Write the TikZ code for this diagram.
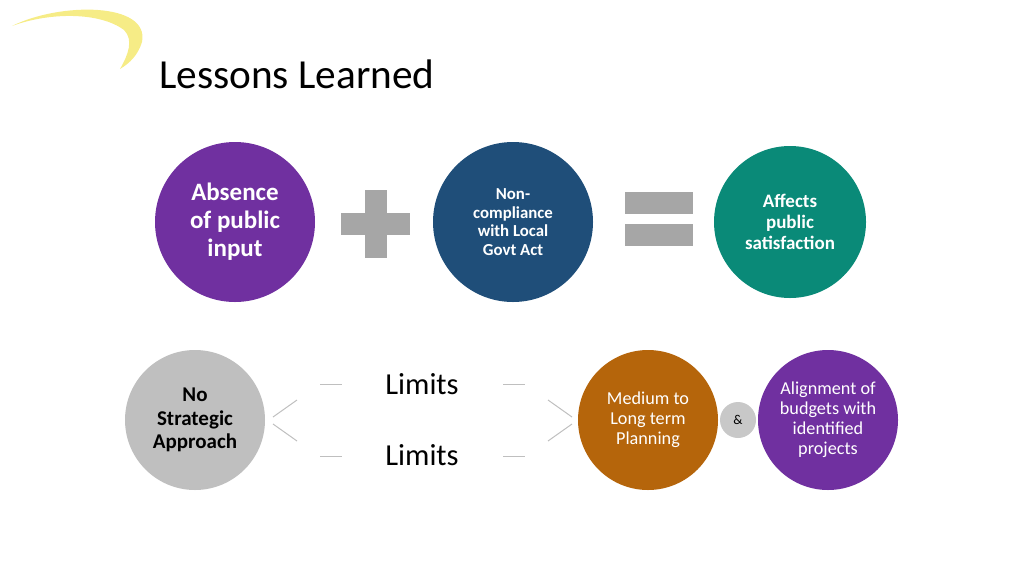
\documentclass[tikz,border=0pt]{standalone}
\usepackage{fontspec}
\setmainfont{Carlito}
\definecolor{cpurple}{HTML}{7030A0}
\definecolor{cblue}{HTML}{1F4E79}
\definecolor{cteal}{HTML}{0A8A78}
\definecolor{corange}{HTML}{B5650B}
\definecolor{cgrayA}{HTML}{A6A6A6}
\definecolor{cgrayB}{HTML}{BFBFBF}
\definecolor{cgrayC}{HTML}{C8C8C8}
\definecolor{cline}{HTML}{BFBFBF}
\definecolor{cyellow}{HTML}{F6EC86}
\begin{document}
\begin{tikzpicture}[x=1pt,y=-1pt,
  bubble/.style={circle, inner sep=0pt, align=center},
  deco/.style={draw=cline, line width=1pt},
  sym/.style={fill=cgrayA, draw=none}]
\path[use as bounding box] (0,0) rectangle (1024,576);
% swoosh
\fill[cyellow] (12,26) .. controls (60,2) and (150,2) .. (142,42)
  .. controls (138,55) and (130,63) .. (120,69)
  .. controls (128,55) and (134,40) .. (124,30)
  .. controls (100,12) and (50,12) .. (12,26) -- cycle;
% title
\node[anchor=base west, inner sep=0pt, font=\fontsize{41.3}{48}\selectfont] (title) at (159,88) {Lessons Learned};
% top row
\node[bubble, fill=cpurple, minimum size=160pt, text=white, font=\fontsize{25}{28}\selectfont\bfseries] (absence) at (235,222) {Absence\\of public\\input};
\path[sym] (365,190) rectangle (387,258);
\path[sym] (341,213) rectangle (410,235);
\node[bubble, fill=cblue, minimum size=160pt, text=white, font=\fontsize{16.8}{18.7}\selectfont\bfseries] (noncomp) at (513,222) {Non-\\compliance\\with Local\\Govt Act};
\path[sym] (625,192) rectangle (693,214);
\path[sym] (625,224) rectangle (693,246);
\node[bubble, fill=cteal, minimum size=152pt, text=white, font=\fontsize{19}{21}\selectfont\bfseries] (affects) at (790,222) {Affects\\public\\satisfaction};
% bottom row
\node[bubble, fill=cgrayB, minimum size=140pt, text=black, font=\fontsize{21}{23.5}\selectfont\bfseries] (nostrat) at (195,420) {No\\Strategic\\Approach};
\node[inner sep=0pt, font=\fontsize{30.5}{34}\selectfont] (lim1) at (422,384) {Limits};
\node[inner sep=0pt, font=\fontsize{30.5}{34}\selectfont] (lim2) at (422,455) {Limits};
\node[bubble, fill=corange, minimum size=140pt, text=white, font=\fontsize{18.2}{20}\selectfont] (medium) at (648,420) {Medium to\\Long term\\Planning};
\node[bubble, fill=cgrayC, minimum size=36pt, text=black, font=\fontsize{13.5}{15}\selectfont] (amp) at (738,420) {\&};
\node[bubble, fill=cpurple, minimum size=140pt, text=white, font=\fontsize{18.2}{20}\selectfont] (align) at (828,420) {Alignment of\\budgets with\\identified\\projects};
% decorative dashes and chevrons
\coordinate (d1a) at (320,384); \coordinate (d1b) at (342,384);
\coordinate (d2a) at (503,384); \coordinate (d2b) at (525,384);
\coordinate (d3a) at (320,456); \coordinate (d3b) at (342,456);
\coordinate (d4a) at (503,456); \coordinate (d4b) at (525,456);
\draw[deco] (d1a) -- (d1b);
\draw[deco] (d2a) -- (d2b);
\draw[deco] (d3a) -- (d3b);
\draw[deco] (d4a) -- (d4b);
\coordinate (cl1) at (297,400); \coordinate (cl2) at (273,417);
\coordinate (cl3) at (273,424); \coordinate (cl4) at (297,441);
\draw[deco] (cl1) -- (cl2);
\draw[deco] (cl3) -- (cl4);
\coordinate (cr1) at (548,400); \coordinate (cr2) at (572,417);
\coordinate (cr3) at (572,424); \coordinate (cr4) at (548,441);
\draw[deco] (cr1) -- (cr2);
\draw[deco] (cr3) -- (cr4);
\end{tikzpicture}
\end{document}
